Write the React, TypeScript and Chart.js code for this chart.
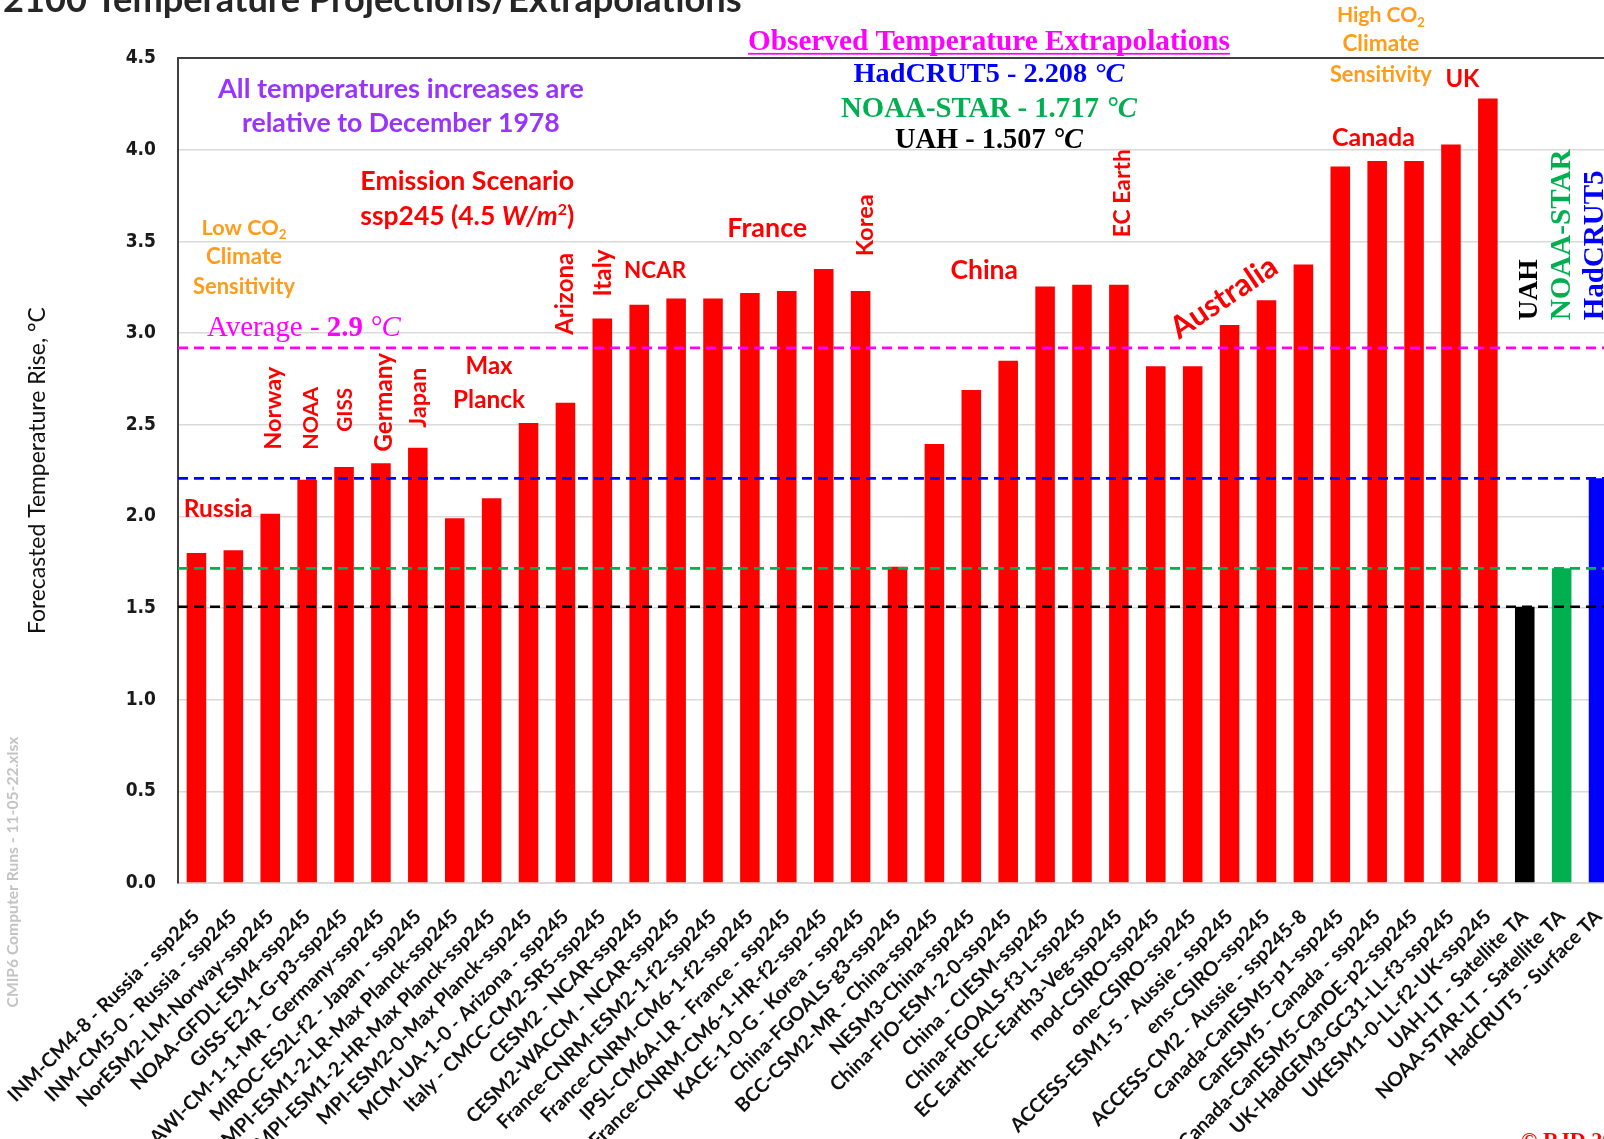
import { useEffect, useRef } from "react";
import { Chart, registerables } from "chart.js";

Chart.register(...registerables);

// ---------------- data ----------------
const categories = [
  "INM-CM4-8 - Russia - ssp245",
  "INM-CM5-0 - Russia - ssp245",
  "NorESM2-LM-Norway-ssp245",
  "NOAA-GFDL-ESM4-ssp245",
  "GISS-E2-1-G-p3-ssp245",
  "AWI-CM-1-1-MR - Germany-ssp245",
  "MIROC-ES2L-f2 - Japan - ssp245",
  "MPI-ESM1-2-LR-Max Planck-ssp245",
  "MPI-ESM1-2-HR-Max Planck-ssp245",
  "MPI-ESM2-0-Max Planck-ssp245",
  "MCM-UA-1-0 - Arizona - ssp245",
  "Italy - CMCC-CM2-SR5-ssp245",
  "CESM2 - NCAR-ssp245",
  "CESM2-WACCM - NCAR-ssp245",
  "France-CNRM-ESM2-1-f2-ssp245",
  "France-CNRM-CM6-1-f2-ssp245",
  "IPSL-CM6A-LR - France - ssp245",
  "France-CNRM-CM6-1-HR-f2-ssp245",
  "KACE-1-0-G - Korea - ssp245",
  "China-FGOALS-g3-ssp245",
  "BCC-CSM2-MR - China-ssp245",
  "NESM3-China-ssp245",
  "China-FIO-ESM-2-0-ssp245",
  "China - CIESM-ssp245",
  "China-FGOALS-f3-L-ssp245",
  "EC Earth-EC-Earth3-Veg-ssp245",
  "mod-CSIRO-ssp245",
  "one-CSIRO-ssp245",
  "ACCESS-ESM1-5 - Aussie - ssp245",
  "ens-CSIRO-ssp245",
  "ACCESS-CM2 - Aussie - ssp245-8",
  "Canada-CanESM5-p1-ssp245",
  "CanESM5 - Canada - ssp245",
  "Canada-CanESM5-CanOE-p2-ssp245",
  "UK-HadGEM3-GC31-LL-f3-ssp245",
  "UKESM1-0-LL-f2-UK-ssp245",
  "UAH-LT - Satellite TA",
  "NOAA-STAR-LT - Satellite TA",
  "HadCRUT5 - Surface TA",
];

const modelProjections = [
  1.8, 1.815, 2.015, 2.2, 2.27, 2.29, 2.375, 1.99, 2.1, 2.51, 2.62, 3.08, 3.155,
  3.19, 3.19, 3.22, 3.23, 3.35, 3.23, 1.725, 2.395, 2.69, 2.85, 3.255, 3.265,
  3.265, 2.82, 2.82, 3.045, 3.18, 3.375, 3.91, 3.94, 3.94, 4.03, 4.28,
];

// UAH, NOAA-STAR, HadCRUT5
const observedNames = ["UAH", "NOAA-STAR", "HadCRUT5"];
const observedExtrapolations = [1.507, 1.717, 2.208];

const averageProjection = 2.92;
const averageLabel = "2.9";

const yTickLabels = ["0.0", "0.5", "1.0", "1.5", "2.0", "2.5", "3.0", "3.5", "4.0", "4.5"];

// ---------------- styling ----------------
const RED = "#FF0000";
const MAGENTA = "#FF00FF";
const BLUE = "#0000FF";
const GREEN = "#00B050";
const BLACK = "#000000";
const ORANGE = "#FF9C1A";
const PURPLE = "#9933FF";
const observedColors = [BLACK, GREEN, BLUE];

const SANS = "Lato, 'Noto Sans', sans-serif";
const SERIF = "'Liberation Serif', 'DejaVu Serif', serif";

const CANVAS_W = 1640;
const CANVAS_H = 1180;
const PLOT_LEFT = 178;
const PLOT_TOP = 58.3;
const PLOT_BOTTOM = 883;
const PLOT_RIGHT = 1617;

type Seg = { t: string; st?: string; k?: number; dy?: number };
type Ann = {
  segs: Seg[];
  fam: string;
  st: string;
  color: string;
  w?: number;
  size?: number;
  align: "center" | "left";
  rot?: number;
  underline?: boolean;
  bl?: boolean;
  i?: number;
  v?: number;
  px?: number;
  py?: number;
};

const VERT = -Math.PI / 2;

function fitSize(text: string, weight: string, family: string, target: number): number {
  const c = document.createElement("canvas").getContext("2d")!;
  c.font = `${weight} 100px ${family}`;
  return (100 * target) / c.measureText(text).width;
}

function buildAnnotations(): Ann[] {
  const red = (t: string, i: number, v: number, w: number): Ann => ({
    segs: [{ t }], fam: SANS, st: "bold", color: RED, w, align: "center", i, v,
  });
  const redV = (t: string, i: number, v: number, w: number): Ann => ({
    segs: [{ t }], fam: SANS, st: "bold", color: RED, w, align: "left", rot: VERT, i, v,
  });
  const orange = (segs: Seg[], i: number, v: number, w: number): Ann => ({
    segs, fam: SANS, st: "bold", color: ORANGE, w, align: "center", i, v,
  });
  const co2 = (pre: string): Seg[] => [{ t: pre + "CO" }, { t: "2", k: 0.62, dy: 0.2 }];
  const obsLine = (k: number, v: number, w: number): Ann => ({
    segs: [
      { t: `${observedNames[k]} - ${observedExtrapolations[k].toFixed(3)} ` },
      { t: "°C", st: "italic bold" },
    ],
    fam: SERIF, st: "bold", color: observedColors[k], w, align: "center", i: 21.48, v,
  });
  const obsV = (k: number, i: number, w: number): Ann => ({
    segs: [{ t: observedNames[k] }], fam: SERIF, st: "bold", color: observedColors[k],
    w, align: "left", rot: VERT, i, v: 3.07,
  });
  return [
    {
      segs: [{ t: "Observed Temperature Extrapolations" }], fam: SERIF, st: "bold",
      color: MAGENTA, w: 482, align: "center", i: 21.48, v: 4.598, underline: true,
    },
    obsLine(2, 4.42, 271),
    obsLine(1, 4.234, 296),
    obsLine(0, 4.06, 188),
    {
      segs: [{ t: "All temperatures increases are" }], fam: SANS, st: "bold",
      color: PURPLE, w: 366, align: "center", i: 5.54, v: 4.338,
    },
    {
      segs: [{ t: "relative to December 1978" }], fam: SANS, st: "bold",
      color: PURPLE, w: 318, align: "center", i: 5.54, v: 4.15,
    },
    red("Emission Scenario", 7.34, 3.834, 214),
    {
      segs: [
        { t: "ssp245 (4.5 " },
        { t: "W/m", st: "italic bold" },
        { t: "2", k: 0.6, dy: -0.38 },
        { t: ")" },
      ],
      fam: SANS, st: "bold", color: RED, w: 214, align: "center", i: 7.34, v: 3.641,
    },
    orange(co2("Low "), 1.29, 3.579, 85),
    orange([{ t: "Climate" }], 1.29, 3.422, 76),
    orange([{ t: "Sensitivity" }], 1.29, 3.255, 102),
    orange(co2("High "), 32.1, 4.738, 88),
    orange([{ t: "Climate" }], 32.1, 4.585, 77),
    orange([{ t: "Sensitivity" }], 32.1, 4.416, 102),
    {
      segs: [{ t: "Average - " }, { t: averageLabel, st: "bold" }, { t: " " }, { t: "°C", st: "italic" }],
      fam: SERIF, st: "normal", color: MAGENTA, w: 194, align: "left", i: 0.285, v: 3.037,
    },
    red("Russia", 0.59, 2.045, 69),
    redV("Norway", 2.07, 2.364, 83),
    redV("NOAA", 3.08, 2.364, 63),
    redV("GISS", 4.02, 2.462, 44),
    redV("Germany", 5.05, 2.353, 99),
    redV("Japan", 6.0, 2.484, 60),
    red("Max", 7.93, 2.822, 47),
    red("Planck", 7.93, 2.642, 72),
    redV("Arizona", 9.96, 2.991, 82),
    redV("Italy", 11.01, 3.2, 47),
    red("NCAR", 12.43, 3.346, 62),
    red("France", 15.47, 3.58, 80),
    redV("Korea", 18.1, 3.42, 62),
    red("China", 21.35, 3.35, 67.5),
    redV("EC Earth", 25.09, 3.524, 88),
    {
      segs: [{ t: "Australia" }], fam: SANS, st: "bold", color: RED, w: 122,
      align: "center", rot: (-34 * Math.PI) / 180, i: 27.83, v: 3.2,
    },
    red("Canada", 31.9, 4.068, 83),
    red("UK", 34.31, 4.389, 34),
    obsV(0, 36.08, 61),
    obsV(1, 36.97, 171),
    obsV(2, 37.86, 150),
    {
      segs: [{ t: "2100 Temperature Projections/Extrapolations" }], fam: SANS, st: "bold",
      color: "#262626", w: 739, align: "left", px: 3, py: 12, bl: true,
    },
    {
      segs: [{ t: "CMIP6 Computer Runs - 11-05-22.xlsx" }], fam: SANS, st: "bold",
      color: "#C3C3C3", w: 271, align: "center", rot: VERT, px: 12, py: 872,
    },
    {
      segs: [{ t: "© RJD 2022" }], fam: SERIF, st: "bold", color: RED, size: 22,
      align: "left", px: 1521, py: 1147, bl: true,
    },
  ];
}

function drawAnn(ctx: CanvasRenderingContext2D, a: Ann, x: number, y: number) {
  const fontOf = (s: Seg, size: number) => `${s.st ?? a.st} ${(s.k ?? 1) * size}px ${a.fam}`;
  const measure = (size: number) =>
    a.segs.reduce((acc, s) => {
      ctx.font = fontOf(s, size);
      return acc + ctx.measureText(s.t).width;
    }, 0);
  const size = a.size ?? (100 * (a.w as number)) / measure(100);
  const total = measure(size);
  ctx.save();
  ctx.translate(x, y);
  if (a.rot) ctx.rotate(a.rot);
  ctx.fillStyle = a.color;
  ctx.textAlign = "left";
  ctx.textBaseline = "alphabetic";
  const base = a.bl ? 0 : size * (a.fam === SERIF ? 0.33 : 0.36);
  let cx = a.align === "center" ? -total / 2 : 0;
  const startX = cx;
  for (const s of a.segs) {
    ctx.font = fontOf(s, size);
    ctx.fillText(s.t, cx, base + (s.dy ?? 0) * size);
    cx += ctx.measureText(s.t).width;
  }
  if (a.underline) {
    ctx.fillRect(startX, base + size * 0.1, total, Math.max(1.5, size * 0.06));
  }
  ctx.restore();
}

export default function App() {
  const canvasRef = useRef<HTMLCanvasElement | null>(null);

  useEffect(() => {
    const canvas = canvasRef.current;
    if (!canvas) return;

    const values = [...modelProjections, ...observedExtrapolations];
    const colors = [...modelProjections.map(() => RED), ...observedColors];
    const annotations = buildAnnotations();

    const xTickSize = fitSize(categories[0], "bold", SANS, 262);
    const yTitleSize = fitSize("Forecasted Temperature Rise, °C", "normal", SANS, 327);

    const refLines = [
      { value: averageProjection, color: MAGENTA },
      { value: observedExtrapolations[2], color: BLUE },
      { value: observedExtrapolations[1], color: GREEN },
      { value: observedExtrapolations[0], color: BLACK },
    ];

    const overlay = {
      id: "overlay",
      beforeDraw(chart: any) {
        const c = chart.ctx;
        c.save();
        c.fillStyle = "#ffffff";
        c.fillRect(0, 0, chart.width, chart.height);
        c.restore();
      },
      afterDatasetsDraw(chart: any) {
        const c: CanvasRenderingContext2D = chart.ctx;
        const xs = chart.scales.x;
        const ys = chart.scales.y;
        const area = chart.chartArea;
        c.save();
        c.lineWidth = 2.6;
        c.setLineDash([10, 6]);
        for (const l of refLines) {
          const py = ys.getPixelForValue(l.value);
          c.strokeStyle = l.color;
          c.beginPath();
          c.moveTo(area.left, py);
          c.lineTo(area.right, py);
          c.stroke();
        }
        c.restore();
        for (const a of annotations) {
          const px = a.px ?? xs.getPixelForValue(a.i as number);
          const py = a.py ?? ys.getPixelForValue(a.v as number);
          drawAnn(c, a, px, py);
        }
      },
    };

    const chart = new Chart(canvas, {
      type: "bar",
      data: {
        labels: categories,
        datasets: [
          {
            data: values,
            backgroundColor: colors,
            borderWidth: 0,
            barPercentage: 0.53,
            categoryPercentage: 1.0,
          },
        ],
      },
      options: {
        responsive: false,
        animation: false,
        devicePixelRatio: 1,
        layout: {
          padding: { left: 0, top: PLOT_TOP, right: CANVAS_W - PLOT_RIGHT, bottom: 0 },
        },
        plugins: {
          legend: { display: false },
          tooltip: { enabled: false },
          title: { display: false },
        },
        scales: {
          x: {
            grid: { display: false, drawTicks: false },
            border: { color: "#D9D9D9", width: 2 },
            ticks: {
              autoSkip: false,
              minRotation: 45,
              maxRotation: 45,
              padding: 22,
              color: "#111111",
              font: { family: SANS, size: xTickSize, weight: "bold" },
            },
            afterFit: (s: any) => {
              s.height = CANVAS_H - PLOT_BOTTOM;
              s.paddingLeft = 0;
              s.paddingRight = 0;
            },
          },
          y: {
            min: 0,
            max: 4.5,
            ticks: {
              stepSize: 0.5,
              padding: 22,
              color: "#1A1A1A",
              font: { family: "'DejaVu Sans Condensed', 'DejaVu Sans', sans-serif", size: 19, weight: "bold" },
              callback: (_v: any, idx: number) => yTickLabels[idx],
            },
            grid: {
              drawTicks: false,
              color: (c: any) => (c.tick && c.tick.value === 4.5 ? "#404040" : "#D9D9D9"),
              lineWidth: (c: any) => (c.tick && c.tick.value === 4.5 ? 2 : 1.5),
            },
            border: { color: "#404040", width: 2 },
            title: {
              display: true,
              text: "Forecasted Temperature Rise, °C",
              color: "#111111",
              font: { family: SANS, size: yTitleSize, weight: "normal" },
              padding: { top: 24, bottom: 0 },
            },
            afterFit: (s: any) => {
              s.width = PLOT_LEFT;
            },
          },
        },
      } as any,
      plugins: [overlay],
    });

    return () => chart.destroy();
  }, []);

  return (
    <div
      style={{
        position: "fixed",
        left: 0,
        top: 0,
        width: 1604,
        height: 1139,
        overflow: "hidden",
        background: "#ffffff",
      }}
    >
      <canvas
        ref={canvasRef}
        width={CANVAS_W}
        height={CANVAS_H}
        style={{ display: "block", width: CANVAS_W, height: CANVAS_H }}
      />
    </div>
  );
}
